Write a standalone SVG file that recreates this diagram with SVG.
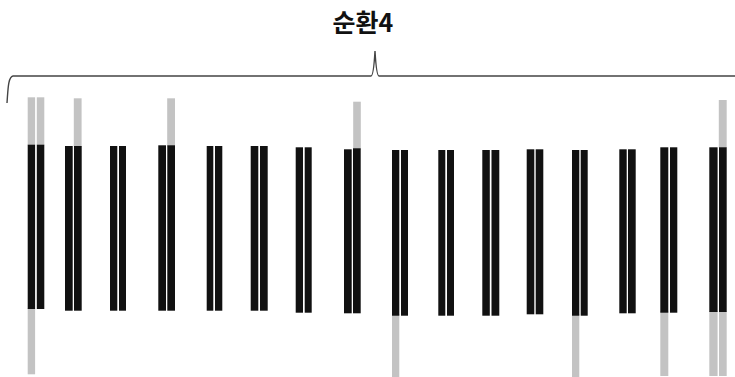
<svg xmlns="http://www.w3.org/2000/svg" width="735" height="377" viewBox="0 0 735 377">
<style>
.b{fill:#111111}
.g{fill:#c3c3c3}
.br{fill:none;stroke:#444444;stroke-width:1.4}
.t{font-family:"Noto Sans CJK KR","Noto Sans",sans-serif;font-weight:bold;font-size:25px;fill:#111111}
</style>
<rect width="735" height="377" fill="#ffffff"/>
<text class="t" x="363" y="31.5" text-anchor="middle">순환4</text>
<g id="bracket">
<path class="br" d="M7,103 C8,90 8,77 13,76 L371,76 C373,76 374,68 375,51 C376,68 377,76 379,76 L735,76"/>
</g>
<g id="grays">
<rect class="g" x="27.7" y="97.3" width="7.4" height="48"/>
<rect class="g" x="36.8" y="97.3" width="7.5" height="48"/>
<rect class="g" x="73.8" y="98.3" width="7.8" height="48"/>
<rect class="g" x="167.2" y="98.3" width="7.8" height="48"/>
<rect class="g" x="353.2" y="101.7" width="7.6" height="48"/>
<rect class="g" x="718.8" y="100" width="7.9" height="48"/>
<rect class="g" x="27.7" y="308" width="7.4" height="66.3"/>
<rect class="g" x="392" y="314" width="7.3" height="63"/>
<rect class="g" x="572" y="314" width="7.3" height="63"/>
<rect class="g" x="660.3" y="311" width="8" height="65"/>
<rect class="g" x="709.3" y="311" width="8.3" height="65"/>
<rect class="g" x="719" y="311" width="7.7" height="65"/>
</g>
<g id="pair1"><rect class="b" x="27.7" y="144.7" width="7.4" height="164.3"/><rect class="b" x="36.8" y="144.7" width="7.5" height="164.3"/></g>
<g id="pair2"><rect class="b" x="65" y="146" width="7.7" height="164.7"/><rect class="b" x="74" y="146" width="7.7" height="164.7"/></g>
<g id="pair3"><rect class="b" x="110" y="146" width="7.3" height="164.7"/><rect class="b" x="119" y="146" width="7" height="164.7"/></g>
<g id="pair4"><rect class="b" x="158.3" y="145.3" width="7.7" height="165.4"/><rect class="b" x="167.3" y="145.3" width="7.7" height="165.4"/></g>
<g id="pair5"><rect class="b" x="206.7" y="146" width="6.6" height="164.7"/><rect class="b" x="215" y="146" width="7.3" height="164.7"/></g>
<g id="pair6"><rect class="b" x="250.7" y="146" width="7.6" height="164.7"/><rect class="b" x="260" y="146" width="7.7" height="164.7"/></g>
<g id="pair7"><rect class="b" x="295.7" y="147.3" width="7.3" height="165.4"/><rect class="b" x="304.7" y="147.3" width="7" height="165.4"/></g>
<g id="pair8"><rect class="b" x="344" y="149.3" width="7.7" height="164"/><rect class="b" x="353" y="148.3" width="7.7" height="165"/></g>
<g id="pair9"><rect class="b" x="392" y="150" width="7.3" height="165.7"/><rect class="b" x="401" y="150" width="7" height="165.7"/></g>
<g id="pair10"><rect class="b" x="438.3" y="150" width="7" height="165.7"/><rect class="b" x="447" y="150" width="7" height="165.7"/></g>
<g id="pair11"><rect class="b" x="482.3" y="150" width="7.5" height="165.7"/><rect class="b" x="491.5" y="150" width="7.8" height="165.7"/></g>
<g id="pair12"><rect class="b" x="526.7" y="149.3" width="7.6" height="165"/><rect class="b" x="535.7" y="149.3" width="7.6" height="165"/></g>
<g id="pair13"><rect class="b" x="572" y="150" width="7.3" height="165.7"/><rect class="b" x="580.7" y="150" width="7" height="165.7"/></g>
<g id="pair14"><rect class="b" x="619.3" y="149.3" width="7.4" height="164"/><rect class="b" x="628" y="149.3" width="7.7" height="164"/></g>
<g id="pair15"><rect class="b" x="660.3" y="147.3" width="8" height="165.4"/><rect class="b" x="670" y="147.3" width="7.3" height="165.4"/></g>
<g id="pair16"><rect class="b" x="709.3" y="147.3" width="8.3" height="164.7"/><rect class="b" x="719" y="147.3" width="7.7" height="164.7"/></g>
</svg>
